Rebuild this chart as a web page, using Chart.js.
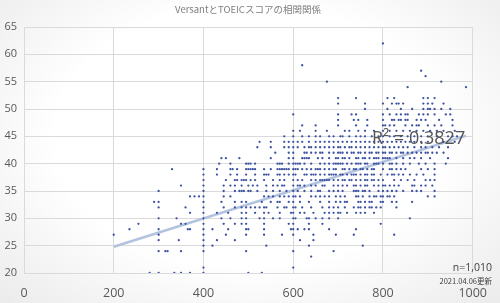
<!DOCTYPE html>
<html>
<head>
<meta charset="utf-8">
<script src="https://cdn.jsdelivr.net/npm/chart.js@4.4.1/dist/chart.umd.min.js"></script>
<style>
  html, body { margin: 0; padding: 0; }
  body {
    width: 500px; height: 303px; overflow: hidden;
    background: radial-gradient(ellipse at 50% 45%, #ffffff 55%, #ebebeb 100%);
  }
  #wrap { position: relative; width: 500px; height: 303px; }
</style>
</head>
<body>
<div id="wrap"><canvas id="scatter-chart" width="500" height="303"></canvas></div>
<script>
// Versant score levels and the TOEIC scores seen at each level
const versantLevels = [62, 58, 57, 56, 55, 54, 52, 51, 50, 49, 48, 47, 46, 45, 44, 43, 42, 41, 40,
  39, 38, 37, 36, 35, 34, 33, 32, 31, 30, 29, 28, 27, 26, 25, 24, 23, 21, 20];
const toeicAtLevel = [
  [800],
  [620],
  [885],
  [895],
  [675, 930],
  [855, 985],
  [700, 740, 810, 825, 890, 900, 915],
  [700, 760, 800, 820, 830, 835, 845, 890, 900, 910, 935],
  [760, 810, 840, 865, 890, 900, 905, 915, 930, 950],
  [600, 700, 730, 740, 800, 815, 830, 840, 850, 855, 880, 890, 900, 915, 940, 950],
  [700, 735, 745, 765, 800, 820, 825, 835, 840, 850, 855, 875, 885, 895, 925, 955],
  [620, 650, 700, 740, 765, 800, 805, 815, 825, 850, 865, 875, 880, 900, 915, 930, 955],
  [600, 615, 650, 675, 715, 725, 745, 760, 780, 800, 815, 830, 845, 860, 875, 890, 905, 920, 935, 960],
  [580, 600, 620, 635, 650, 660, 680, 690, 705, 710, 725, 740, 750, 760, 775, 790, 800, 815, 825, 840,
    855, 870, 885, 900, 920, 945, 955, 965],
  [525, 550, 580, 590, 600, 610, 620, 635, 650, 660, 670, 680, 690, 700, 710, 720, 730, 740, 750, 760,
    770, 780, 790, 800, 810, 820, 830, 840, 850, 860, 870, 885, 900, 935, 960],
  [520, 550, 580, 590, 600, 610, 625, 635, 640, 650, 660, 670, 680, 690, 700, 705, 715, 725, 730, 740,
    750, 760, 770, 780, 790, 800, 805, 815, 825, 835, 845, 855, 870, 885, 895, 910, 925, 945],
  [560, 590, 600, 625, 630, 640, 650, 660, 665, 680, 690, 700, 705, 710, 720, 730, 735, 745, 750, 760,
    770, 775, 785, 790, 800, 805, 815, 820, 830, 840, 845, 855, 865, 875, 885, 895, 900, 910, 920, 935],
  [440, 450, 480, 550, 590, 600, 620, 625, 630, 635, 655, 665, 680, 695, 700, 710, 715, 725, 740, 745,
    755, 760, 770, 780, 785, 790, 800, 805, 810, 815, 830, 845, 860, 870, 885, 905, 945],
  [435, 460, 495, 500, 505, 515, 565, 570, 575, 590, 600, 605, 610, 615, 625, 640, 660, 670, 680, 690,
    695, 700, 705, 710, 720, 730, 740, 745, 750, 760, 765, 780, 785, 790, 800, 815, 820, 830, 845, 860,
    880, 895, 915, 940],
  [330, 400, 430, 460, 465, 475, 495, 500, 505, 510, 515, 535, 550, 565, 570, 575, 580, 585, 590, 600,
    605, 610, 620, 630, 640, 650, 655, 660, 670, 680, 690, 695, 710, 715, 725, 735, 740, 750, 755, 765,
    775, 780, 800, 815, 820, 830, 840, 850, 885, 900, 915],
  [400, 430, 460, 475, 495, 515, 535, 540, 545, 565, 570, 580, 590, 600, 605, 625, 630, 640, 645, 650,
    660, 670, 680, 685, 690, 695, 705, 710, 720, 730, 735, 740, 750, 760, 765, 775, 780, 795, 810, 820,
    825, 835, 845, 860, 875, 890, 915],
  [400, 450, 470, 475, 485, 490, 495, 505, 515, 535, 555, 570, 580, 600, 610, 620, 640, 650, 660, 665,
    670, 675, 680, 690, 700, 710, 715, 725, 730, 740, 750, 760, 765, 775, 780, 790, 800, 825, 840, 855,
    870, 895, 905, 915],
  [350, 400, 445, 460, 470, 485, 500, 510, 520, 540, 555, 565, 575, 580, 600, 610, 615, 625, 640, 650,
    665, 670, 690, 700, 710, 720, 735, 740, 750, 760, 765, 780, 790, 800, 805, 815, 825, 835, 865, 870,
    885, 895, 910],
  [300, 400, 445, 470, 480, 485, 490, 500, 505, 520, 540, 555, 570, 585, 600, 610, 625, 640, 655, 660,
    680, 690, 700, 710, 735, 740, 745, 755, 760, 770, 790, 800, 810, 820, 830, 845, 865, 875, 885, 915],
  [370, 380, 390, 400, 445, 460, 535, 545, 555, 570, 580, 590, 600, 605, 615, 640, 650, 660, 670, 680,
    695, 705, 715, 740, 745, 755, 770, 780, 785, 795, 800, 810, 815, 825, 900, 915],
  [290, 300, 400, 440, 470, 485, 495, 530, 550, 565, 570, 590, 600, 615, 635, 660, 680, 695, 705, 715,
    720, 745, 750, 760, 770, 775, 795, 800, 820, 830, 865],
  [300, 360, 400, 445, 470, 485, 495, 505, 515, 525, 535, 540, 565, 580, 585, 600, 605, 620, 640, 665,
    680, 690, 700, 715, 735, 745, 750, 760, 770, 775, 785, 795, 830],
  [370, 400, 430, 455, 485, 495, 515, 535, 545, 570, 595, 600, 615, 625, 645, 670, 680, 690, 700, 705,
    720, 740, 750, 760, 780],
  [300, 340, 400, 440, 460, 485, 495, 525, 535, 555, 570, 600, 605, 630, 635, 650, 665, 680, 700, 860],
  [255, 350, 360, 400, 445, 470, 485, 495, 535, 590, 600, 635, 665, 795],
  [235, 300, 365, 370, 400, 420, 455, 495, 500, 535, 595, 600, 610, 625, 635, 680, 740],
  [200, 300, 400, 450, 495, 535, 575, 600, 645, 695, 735, 825],
  [300, 345, 400, 430, 470, 615, 645],
  [400, 420, 540, 635, 755],
  [300, 315, 320, 350, 400, 495, 600, 690],
  [640],
  [400, 600],
  [280, 300, 335, 350, 370, 400, 500, 530]
];

// linear trendline ends as drawn in the original
const trendToeic = [200, 985];
const trendVersant = [24.8, 45.1];

const xTicks = [0, 200, 400, 600, 800, 1000];
const yMin = 20, yMax = 65, yStep = 5;

const titleText = "VersantとTOEICスコアの相関関係";
const r2Text = "R² = 0.3827";
const countText = "n=1,010";
const dateText = "2021.04.06更新";

function buildPoints() {
  var pts = [];
  versantLevels.forEach(function (v, i) {
    toeicAtLevel[i].forEach(function (t) {
      pts.push({ x: t, y: v });
    });
  });
  return pts;
}

const notesPlugin = {
  id: "notes",
  afterDraw(chart) {
    var ctx = chart.ctx;
    ctx.save();
    ctx.textBaseline = "alphabetic";

    ctx.fillStyle = "#7f7f7f";
    ctx.font = '9.5px "Noto Sans CJK JP"';
    ctx.textAlign = "center";
    ctx.fillText(titleText, 248, 13);

    ctx.fillStyle = "#555555";
    ctx.font = '18px "Open Sans"';
    ctx.textAlign = "left";
    ctx.fillText(r2Text, 372, 144);

    ctx.fillStyle = "#404040";
    ctx.textAlign = "right";
    ctx.font = '10.5px "Open Sans"';
    ctx.fillText(countText, 492, 271);
    ctx.font = '7.5px "Noto Sans CJK JP"';
    ctx.fillText(dateText, 492, 284);
    ctx.restore();
  }
};

function scatterChart() {
  new Chart(document.getElementById("scatter-chart"), {
    type: "scatter",
    data: {
      datasets: [
        {
          type: "line",
          data: trendToeic.map(function (t, i) { return { x: t, y: trendVersant[i] }; }),
          borderColor: "rgba(170,188,220,0.9)",
          borderWidth: 2.5,
          pointRadius: 0,
          order: 2,
        },
        {
          data: buildPoints(),
          backgroundColor: "#3d52a3",
          borderWidth: 0,
          pointRadius: 1.15,
          order: 1,
        },
      ],
    },
    options: {
      responsive: false,
      animation: false,
      layout: { padding: { top: 27, right: 20, left: 0, bottom: 0 } },
      plugins: {
        legend: { display: false },
        tooltip: { enabled: false },
      },
      scales: {
        x: {
          type: "linear",
          min: 0,
          max: 1000,
          afterBuildTicks: function (scale) {
            scale.ticks = xTicks.map(function (v) { return { value: v }; });
          },
          afterFit: function (scale) { scale.height = 30; },
          grid: { color: "#dadada", drawTicks: false },
          border: { color: "#dadada" },
          ticks: {
            padding: 13,
            color: "#595959",
            font: { family: "Open Sans", size: 12.5 },
            maxRotation: 0,
            callback: function (v) { return String(v); },
          },
        },
        y: {
          min: yMin,
          max: yMax,
          afterFit: function (scale) { scale.width = 24; },
          grid: { color: "#dadada", drawTicks: false },
          border: { color: "#dadada" },
          ticks: {
            stepSize: yStep,
            padding: 7,
            color: "#595959",
            font: { family: "Open Sans", size: 11 },
          },
        },
      },
    },
    plugins: [notesPlugin],
  });
}

document.addEventListener("DOMContentLoaded", function () {
  scatterChart();
});
</script>
</body>
</html>
